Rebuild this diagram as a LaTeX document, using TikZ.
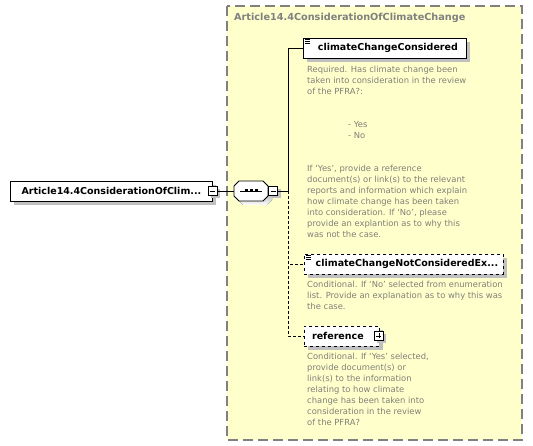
\documentclass[tikz,border=0pt]{standalone}
\usepackage{xcolor}
\usepackage{fontspec}
\setmainfont{DejaVu Sans}
\usepackage{tikz}
\usetikzlibrary{positioning, shadows}
\definecolor{grpfill}{RGB}{255,255,204}
\definecolor{grpline}{RGB}{128,128,128}
\definecolor{doctext}{RGB}{128,128,120}
\definecolor{shade}{RGB}{192,192,192}
\tikzset{
  elem/.style={rectangle, draw=black, fill=white, line width=0.8pt,
    font=\fontsize{9.5}{12}\selectfont\bfseries, minimum height=20pt,
    inner sep=0pt, anchor=west,
    drop shadow={shadow xshift=4pt, shadow yshift=-4pt, fill=shade, opacity=1}},
  optelem/.style={elem, dashed},
  expander/.style={rectangle, draw=black, fill=white, line width=0.6pt,
    minimum size=9pt, inner sep=0pt,
    drop shadow={shadow xshift=3pt, shadow yshift=-3pt, fill=shade, opacity=1}},
  minusbox/.style={expander, path picture={
    \draw[line width=0.6pt] ([xshift=2pt]path picture bounding box.west)
      -- ([xshift=-2pt]path picture bounding box.east);}},
  plusbox/.style={expander, path picture={
    \draw[line width=0.6pt] ([xshift=2pt]path picture bounding box.west)
      -- ([xshift=-2pt]path picture bounding box.east);
    \draw[line width=0.6pt] ([yshift=-2pt]path picture bounding box.north)
      -- ([yshift=2pt]path picture bounding box.south);}},
  docnote/.style={font=\fontsize{8.4}{11}\selectfont, text=doctext,
    align=left, anchor=north west, inner sep=0pt},
  link/.style={line width=0.8pt, color=black},
  optlink/.style={link, dash pattern=on 3pt off 2pt}
}
\newcommand{\seqoutline}{(-17,-5) -- (-12,-10) -- (12,-10) -- (17,-5)
  -- (17,5) -- (12,10) -- (-12,10) -- (-17,5) -- cycle}

\begin{document}
\begin{tikzpicture}[x=1pt, y=-1pt]
  \useasboundingbox[fill=white] (0,0) rectangle (533,446);
  % Group box
  \draw[draw=grpline, fill=grpfill, line width=1.5pt, dash pattern=on 10pt off 5pt]
    (227,6) rectangle (522,440);
  \node[font=\fontsize{9.7}{12}\selectfont\bfseries, text=grpline, anchor=west,
    inner sep=0pt] (grptitle) at (234,18) {Article14.4ConsiderationOfClimateChange};
  % Root element and sequence
  \node[elem, minimum width=202pt] (root) at (10,191) {Article14.4ConsiderationOfClim...};
  \node[minusbox] (rootx) at (root.east) {};
  \node[minimum width=34pt, minimum height=20pt, inner sep=0pt] (seq) at (251,191) {};
  \begin{scope}[shift={(seq.center)}]
    \fill[shade] [shift={(4,4)}] \seqoutline;
    \filldraw[fill=white, draw=black, line width=0.8pt] \seqoutline;
    \draw[line width=0.6pt] (-11,0) -- (11,0);
    \foreach \dx in {-5,0,5}
      \fill (\dx-1.5,-1.5) rectangle ++(3,3);
  \end{scope}
  \node[minusbox, right=0pt of seq] (seqx) {};
  \coordinate (bus) at (288,191);
  % Child elements
  \node[elem, minimum width=163pt] (cons) at (303,48) {\hspace*{6pt}climateChangeConsidered};
  \node[optelem, minimum width=199pt] (notcons) at (304,264) {\hspace*{6pt}climateChangeNotConsideredEx...};
  \node[optelem, minimum width=75pt] (ref) at (304,336) {reference\hspace*{8pt}};
  \node[plusbox] (refx) at ([xshift=-1pt]ref.east) {};
  \foreach \el in {cons, notcons}
    \foreach \dy in {2,3.7,5.4}
      \draw[line width=0.6pt] ([shift={(2,\dy)}]\el.north west) -- ++(4.5,0);
  % Connectors
  \draw[link] (rootx) -- (seq);
  \draw[link] (seqx) -- (bus) |- (cons);
  \draw[optlink] (bus) |- (notcons);
  \draw[optlink] (bus) |- (ref);
  % Annotations
  \node[docnote] (consdoc) at (307,66) {Required. Has climate change been\\
    taken into consideration in the review\\
    of the PFRA?:\\[22pt]
    \hspace*{41pt}- Yes\\
    \hspace*{41pt}- No\\[22pt]
    If `Yes', provide a reference\\
    document(s) or link(s) to the relevant\\
    reports and information which explain\\
    how climate change has been taken\\
    into consideration. If `No', please\\
    provide an explantion as to why this\\
    was not the case.};
  \node[docnote] (notconsdoc) at (307,281) {Conditional. If `No' selected from enumeration\\
    list. Provide an explanation as to why this was\\
    the case.};
  \node[docnote] (refdoc) at (307,353) {Conditional. If `Yes' selected,\\
    provide document(s) or\\
    link(s) to the information\\
    relating to how climate\\
    change has been taken into\\
    consideration in the review\\
    of the PFRA?};
\end{tikzpicture}
\end{document}
